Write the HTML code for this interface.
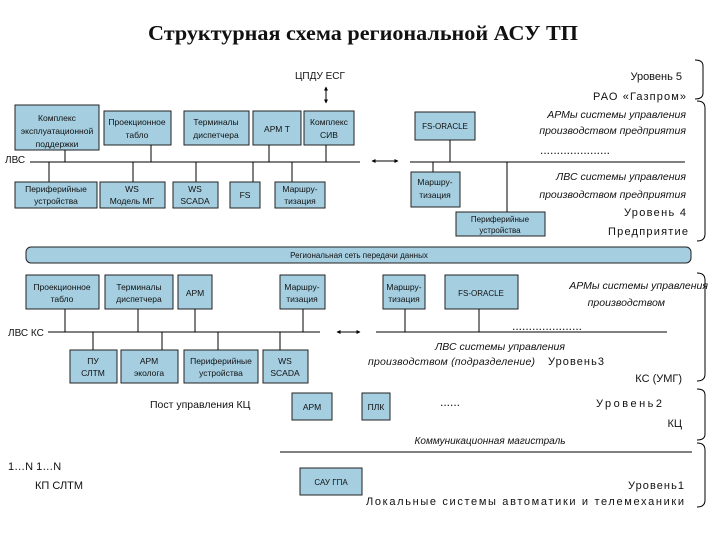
<!DOCTYPE html>
<html><head><meta charset="utf-8"><style>
html,body{margin:0;padding:0;background:#fff;}
svg{display:block;}
text{font-family:"Liberation Sans","DejaVu Sans",sans-serif;fill:#111;}
.b{fill:#a5cfe1;stroke:#222;stroke-width:1;}
.bt{font-size:8.5px;text-anchor:middle;}
.l{stroke:#000;stroke-width:1;fill:none;}
.lab{font-size:11px;}
.it{font-size:10.5px;font-style:italic;}
</style></head><body>
<svg width="720" height="540" viewBox="0 0 720 540" xmlns="http://www.w3.org/2000/svg">
<defs>
<marker id="a" markerWidth="4" markerHeight="4" refX="3.5" refY="2" orient="auto"><path d="M0,0 L4,2 L0,4 z" fill="#000"/></marker>
<marker id="as" markerWidth="4" markerHeight="4" refX="0.5" refY="2" orient="auto"><path d="M4,0 L0,2 L4,4 z" fill="#000"/></marker>
</defs>
<text x="363" y="40" text-anchor="middle" style="font-family:'Liberation Serif',serif;font-weight:bold;font-size:21px" textLength="430" lengthAdjust="spacingAndGlyphs">Структурная схема региональной АСУ ТП</text>

<!-- Level 5 -->
<text x="295" y="79" class="lab" style="font-size:10px">ЦПДУ ЕСГ</text>
<line x1="326" y1="87" x2="326" y2="103" class="l" stroke-width="2.5" marker-start="url(#as)" marker-end="url(#a)"/>
<text x="682" y="80" class="lab" text-anchor="end">Уровень 5</text>
<text x="686" y="100" class="lab" text-anchor="end" textLength="93">РАО «Газпром»</text>
<path d="M695,60 Q703,60 703,66 L703,93 Q703,99 695,99" class="l"/>

<!-- top left LAN -->
<rect x="15" y="105" width="84" height="45" class="b"/>
<text class="bt" x="57" y="121">Комплекс</text><text class="bt" x="57" y="134">эксплуатационной</text><text class="bt" x="57" y="147">поддержки</text>
<rect x="104" y="111" width="67" height="34" class="b"/>
<text class="bt" x="137" y="125">Проекционное</text><text class="bt" x="137" y="138">табло</text>
<rect x="184" y="111" width="65" height="34" class="b"/>
<text class="bt" x="216" y="125">Терминалы</text><text class="bt" x="216" y="138">диспетчера</text>
<rect x="253" y="111" width="48" height="34" class="b"/>
<text class="bt" x="277" y="132">АРМ Т</text>
<rect x="304" y="111" width="50" height="34" class="b"/>
<text class="bt" x="329" y="125">Комплекс</text><text class="bt" x="329" y="138">СИВ</text>
<text x="5" y="163" class="lab" style="font-size:10px">ЛВС</text>
<line x1="30" y1="162" x2="360" y2="162" class="l"/>
<path d="M65,150V162M151,145V162M269,145V162M326,145V162M49,162V182M133,162V182M196,162V182M253,162V182M292,162V182" class="l"/>
<rect x="15" y="182" width="82" height="26" class="b"/>
<text class="bt" x="56" y="192">Периферийные</text><text class="bt" x="56" y="204">устройства</text>
<rect x="100" y="182" width="65" height="26" class="b"/>
<text class="bt" x="132" y="192">WS</text><text class="bt" x="132" y="204">Модель МГ</text>
<rect x="173" y="182" width="45" height="26" class="b"/>
<text class="bt" x="195" y="192">WS</text><text class="bt" x="195" y="204">SCADA</text>
<rect x="230" y="182" width="30" height="26" class="b"/>
<text class="bt" x="245" y="198">FS</text>
<rect x="275" y="182" width="50" height="26" class="b"/>
<text class="bt" x="300" y="192">Маршру-</text><text class="bt" x="300" y="204">тизация</text>

<!-- top right -->
<line x1="372" y1="161" x2="398" y2="161" class="l" stroke-width="2.5" marker-start="url(#as)" marker-end="url(#a)"/>
<line x1="410" y1="162" x2="685" y2="162" class="l"/>
<rect x="415" y="112" width="60" height="28" class="b"/>
<text class="bt" x="445" y="129" style="font-size:8px">FS-ORACLE</text>
<path d="M450,140V162M433,162V172M507,162V212" class="l"/>
<rect x="411" y="172" width="49" height="35" class="b"/>
<text class="bt" x="435" y="185">Маршру-</text><text class="bt" x="435" y="198">тизация</text>
<rect x="456" y="212" width="89" height="24" class="b"/>
<text class="bt" x="500" y="222" style="font-size:8px">Периферийные</text><text class="bt" x="500" y="233" style="font-size:8px">устройства</text>
<text x="686" y="118" class="it" text-anchor="end">АРМы системы управления</text>
<text x="686" y="134" class="it" text-anchor="end">производством предприятия</text>
<text x="540" y="154" style="font-size:12px">.....................</text>
<text x="686" y="180" class="it" text-anchor="end">ЛВС системы управления</text>
<text x="686" y="198" class="it" text-anchor="end">производством предприятия</text>
<text x="686" y="216" class="lab" text-anchor="end" textLength="62">Уровень 4</text>
<text x="688" y="235" class="lab" text-anchor="end" textLength="80">Предприятие</text>
<path d="M697,101 Q705,101 705,108 L705,234 Q705,241 697,241" class="l"/>

<!-- regional network -->
<rect x="26" y="247" width="665" height="16" rx="5" class="b"/>
<text x="359" y="258" text-anchor="middle" style="font-size:8px">Региональная сеть передачи данных</text>

<!-- level 3 -->
<rect x="26" y="275" width="73" height="34" class="b"/>
<text class="bt" x="62" y="290">Проекционное</text><text class="bt" x="62" y="302">табло</text>
<rect x="105" y="275" width="68" height="34" class="b"/>
<text class="bt" x="139" y="290">Терминалы</text><text class="bt" x="139" y="302">диспетчера</text>
<rect x="178" y="275" width="34" height="34" class="b"/>
<text class="bt" x="195" y="296">АРМ</text>
<rect x="280" y="275" width="45" height="34" class="b"/>
<text class="bt" x="302" y="290">Маршру-</text><text class="bt" x="302" y="302">тизация</text>
<text x="8" y="336" class="lab" style="font-size:10px">ЛВС КС</text>
<line x1="48" y1="332" x2="320" y2="332" class="l"/>
<path d="M65,309V332M138,309V332M195,309V332M303,309V332M93,332V350M162,332V350M218,332V350M280,332V350" class="l"/>
<rect x="70" y="350" width="47" height="33" class="b"/>
<text class="bt" x="93" y="364">ПУ</text><text class="bt" x="93" y="376">СЛТМ</text>
<rect x="121" y="350" width="57" height="33" class="b"/>
<text class="bt" x="149" y="364">АРМ</text><text class="bt" x="149" y="376">эколога</text>
<rect x="184" y="350" width="74" height="33" class="b"/>
<text class="bt" x="221" y="364">Периферийные</text><text class="bt" x="221" y="376">устройства</text>
<rect x="263" y="350" width="45" height="33" class="b"/>
<text class="bt" x="285" y="364">WS</text><text class="bt" x="285" y="376">SCADA</text>

<line x1="337" y1="332" x2="360" y2="332" class="l" stroke-width="2.5" marker-start="url(#as)" marker-end="url(#a)"/>
<line x1="376" y1="332" x2="667" y2="332" class="l"/>
<rect x="383" y="275" width="42" height="34" class="b"/>
<text class="bt" x="404" y="290">Маршру-</text><text class="bt" x="404" y="302">тизация</text>
<rect x="445" y="275" width="73" height="34" class="b"/>
<text class="bt" x="481" y="296" style="font-size:8px">FS-ORACLE</text>
<path d="M405,309V332M479,309V332" class="l"/>
<text x="512" y="330" style="font-size:12px">.....................</text>
<text x="708" y="289" class="it" text-anchor="end">АРМы системы управления</text>
<text x="665" y="306" class="it" text-anchor="end">производством</text>
<text x="500" y="350" class="it" text-anchor="middle">ЛВС системы управления</text>
<text x="368" y="365" class="it" textLength="167">производством (подразделение)</text>
<text x="548" y="365" class="lab" textLength="56">Уровень3</text>
<text x="682" y="382" class="lab" text-anchor="end">КС (УМГ)</text>
<path d="M697,273 Q705,273 705,280 L705,374 Q705,381 697,381" class="l"/>

<!-- level 2 -->
<text x="150" y="408" class="lab" style="font-size:10.5px">Пост управления КЦ</text>
<rect x="292" y="393" width="40" height="27" class="b"/>
<text class="bt" x="312" y="410">АРМ</text>
<rect x="362" y="393" width="28" height="27" class="b"/>
<text class="bt" x="376" y="410">ПЛК</text>
<text x="440" y="406" style="font-size:12px">......</text>
<text x="662" y="407" class="lab" text-anchor="end" textLength="66">Уровень2</text>
<text x="682" y="427" class="lab" text-anchor="end">КЦ</text>
<path d="M697,389 Q705,389 705,395 L705,434 Q705,440 697,440" class="l"/>
<text x="490" y="444" class="it" text-anchor="middle" style="font-size:10px">Коммуникационная магистраль</text>
<line x1="280" y1="452" x2="692" y2="452" class="l"/>

<!-- level 1 -->
<text x="8" y="470" class="lab">1…N 1…N</text>
<text x="35" y="489" class="lab">КП  СЛТМ</text>
<rect x="300" y="468" width="62" height="27" class="b"/>
<text class="bt" x="331" y="485" style="font-size:8px">САУ ГПА</text>
<text x="684" y="489" class="lab" text-anchor="end" textLength="56">Уровень1</text>
<text x="366" y="505" class="lab" textLength="318">Локальные системы автоматики и телемеханики</text>
<path d="M697,443 Q705,443 705,450 L705,500 Q705,507 697,507" class="l"/>
</svg>
</body></html>
